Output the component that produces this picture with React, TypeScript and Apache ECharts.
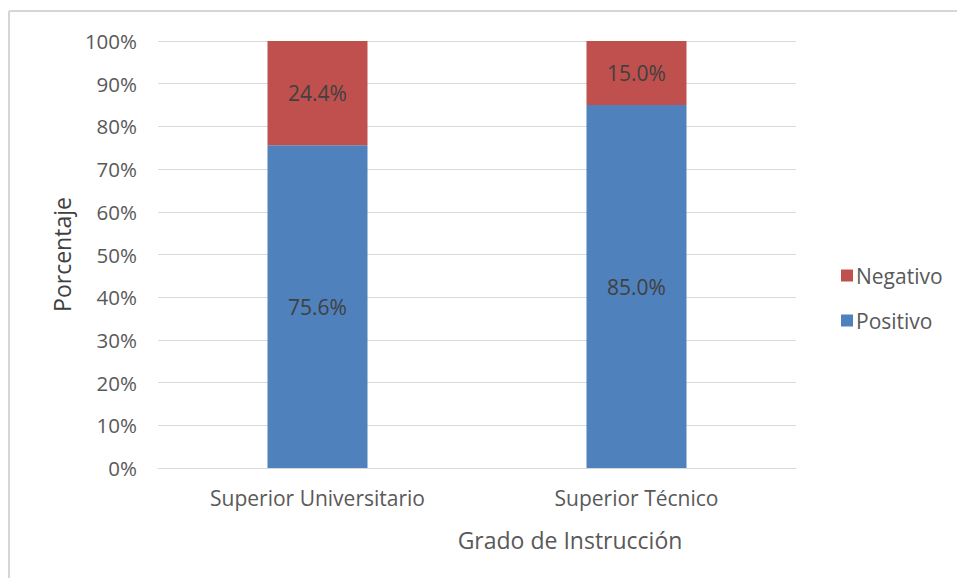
import React, { useEffect, useRef } from "react";
import * as echarts from "echarts";

const categories = ["Superior Universitario", "Superior Técnico"];
const positivo = [75.6, 85.0];
const negativo = [24.4, 15.0];
const yTicks = [0, 10, 20, 30, 40, 50, 60, 70, 80, 90, 100];

const FONT = "Open Sans";

export default function App() {
  const ref = useRef<HTMLDivElement>(null);
  useEffect(() => {
    const chart = echarts.init(ref.current!, null, { renderer: "svg" });
    const dataLabel = {
      show: true,
      position: "inside",
      formatter: (p: any) => p.value.toFixed(1) + "%",
      fontFamily: FONT,
      fontSize: 21,
      color: "#404040",
    };
    chart.setOption({
      animation: false,
      backgroundColor: "#ffffff",
      textStyle: { fontFamily: FONT },
      grid: { left: 158, right: 161, top: 41, bottom: 110, containLabel: false },
      legend: {
        orient: "vertical",
        left: 836,
        top: 260,
        data: ["Negativo", "Positivo"],
        icon: "rect",
        itemWidth: 12,
        itemHeight: 12,
        itemGap: 24,
        textStyle: { fontFamily: FONT, fontSize: 21, color: "#595959", padding: [0, 0, 0, -2] },
      },
      xAxis: {
        type: "category",
        data: categories,
        axisLine: { show: true, lineStyle: { color: "#d9d9d9", width: 1 } },
        axisTick: { show: false },
        axisLabel: { fontFamily: FONT, fontSize: 21, color: "#595959", margin: 19 },
      },
      yAxis: {
        type: "value",
        min: 0,
        max: 100,
        interval: 10,
        name: "Porcentaje",
        nameLocation: "middle",
        nameGap: 84,
        nameTextStyle: { fontFamily: FONT, fontSize: 23, color: "#404040" },
        axisLine: { show: false },
        axisTick: { show: false },
        splitLine: { lineStyle: { color: "#d9d9d9", width: 1 } },
        axisLabel: {
          fontFamily: FONT,
          fontSize: 20.5,
          color: "#595959",
          margin: 21,
          formatter: (v: number) => (yTicks.includes(v) ? v + "%" : ""),
        },
      },
      graphic: [
        { type: "line", shape: { x1: 9, y1: 11, x2: 9, y2: 578 }, style: { stroke: "#d6d6d6", lineWidth: 2 } },
        { type: "line", shape: { x1: 9, y1: 11, x2: 957, y2: 11 }, style: { stroke: "#d6d6d6", lineWidth: 2 } },
        {
          type: "text",
          x: 570,
          y: 540,
          style: {
            text: "Grado de Instrucción",
            fontFamily: FONT,
            fontSize: 23,
            fill: "#595959",
            textAlign: "center",
            textVerticalAlign: "middle",
          },
        },
      ],
      series: [
        {
          name: "Positivo",
          type: "bar",
          stack: "total",
          barWidth: 100,
          data: positivo,
          itemStyle: { color: "#4f81bd" },
          label: dataLabel,
        },
        {
          name: "Negativo",
          type: "bar",
          stack: "total",
          barWidth: 100,
          data: negativo,
          itemStyle: { color: "#c0504d" },
          label: dataLabel,
        },
      ],
    });
    return () => chart.dispose();
  }, []);
  return <div ref={ref} style={{ position: "fixed", left: 0, top: 0, width: 957, height: 578 }} />;
}
